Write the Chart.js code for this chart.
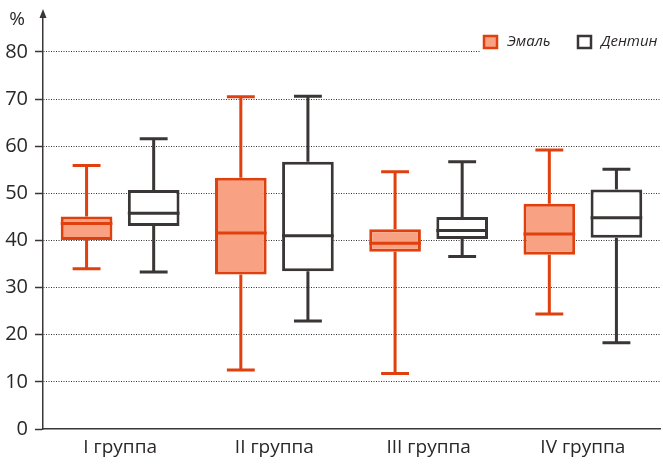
<!DOCTYPE html>
<html>
<head>
<meta charset="utf-8">
<script src="https://cdn.jsdelivr.net/npm/chart.js@4/dist/chart.umd.min.js"></script>
<style>
  body { margin: 0; background: #fff; }
  #wrap { width: 663px; height: 465px; position: relative; }
</style>
</head>
<body>
<div id="wrap"><canvas id="boxChart"></canvas></div>
<script>
const categories = ['I группа', 'II группа', 'III группа', 'IV группа'];
const seriesNames = ['Эмаль', 'Дентин'];
const yTicks = [0, 10, 20, 30, 40, 50, 60, 70, 80];

// Эмаль
const enamelMin = [34.0, 12.5, 11.8, 24.4];
const enamelQ1 = [40.1, 32.8, 37.6, 37.0];
const enamelMedian = [43.6, 41.6, 39.4, 41.4];
const enamelQ3 = [45.1, 53.3, 42.4, 47.8];
const enamelMax = [55.9, 70.5, 54.6, 59.2];

// Дентин
const dentinMin = [33.3, 22.9, 36.6, 18.3];
const dentinQ1 = [43.1, 33.5, 40.3, 40.6];
const dentinMedian = [45.8, 41.0, 42.1, 44.8];
const dentinQ3 = [50.7, 56.7, 45.0, 50.8];
const dentinMax = [61.6, 70.6, 56.7, 55.1];

const orange = '#e0400e';
const orangeFill = '#f9a283';
const dark = '#3a3635';
const textColor = '#2b2727';
const font = "'Open Sans', sans-serif";

// whiskers, caps and medians on top of the floating bars
const boxExtras = {
  id: 'boxExtras',
  afterDatasetsDraw(chart) {
    const ctx = chart.ctx;
    const y = chart.scales.y;
    chart.data.datasets.forEach((ds, i) => {
      const meta = chart.getDatasetMeta(i);
      meta.data.forEach((bar, j) => {
        const { x, width } = bar.getProps(['x', 'width'], true);
        const yMin = y.getPixelForValue(ds.mins[j]);
        const yMax = y.getPixelForValue(ds.maxs[j]);
        const yQ1 = y.getPixelForValue(ds.data[j][0]);
        const yQ3 = y.getPixelForValue(ds.data[j][1]);
        const yMed = y.getPixelForValue(ds.medians[j]);
        const cap = width * 0.27;
        ctx.save();
        ctx.strokeStyle = ds.borderColor;
        ctx.lineWidth = 3;
        ctx.beginPath();
        ctx.moveTo(x, yQ3); ctx.lineTo(x, yMax);
        ctx.moveTo(x, yQ1); ctx.lineTo(x, yMin);
        ctx.moveTo(x - cap, yMax); ctx.lineTo(x + cap, yMax);
        ctx.moveTo(x - cap, yMin); ctx.lineTo(x + cap, yMin);
        ctx.moveTo(x - width / 2, yMed); ctx.lineTo(x + width / 2, yMed);
        ctx.stroke();
        ctx.restore();
      });
    });
  }
};

// axis arrow, unit label and legend
const decorations = {
  id: 'decorations',
  afterDraw(chart) {
    const ctx = chart.ctx;
    const area = chart.chartArea;
    ctx.save();
    ctx.fillStyle = dark;
    ctx.beginPath();
    ctx.moveTo(area.left, 9);
    ctx.lineTo(area.left - 3.5, 18);
    ctx.lineTo(area.left + 3.5, 18);
    ctx.closePath();
    ctx.fill();

    ctx.fillStyle = textColor;
    ctx.font = '19px ' + font;
    ctx.textAlign = 'center';
    ctx.textBaseline = 'middle';
    ctx.fillText('%', 17, 20);

    // legend
    ctx.fillStyle = '#fff';
    ctx.fillRect(481, 31, 182, 24);
    const items = [
      { label: seriesNames[0], x: 484, fill: orangeFill, stroke: orange },
      { label: seriesNames[1], x: 578, fill: '#fff', stroke: dark }
    ];
    ctx.font = 'italic 15px ' + font;
    ctx.textAlign = 'left';
    items.forEach(it => {
      ctx.fillStyle = it.fill;
      ctx.strokeStyle = it.stroke;
      ctx.lineWidth = 2.5;
      ctx.fillRect(it.x, 36, 13, 12);
      ctx.strokeRect(it.x, 36, 13, 12);
      ctx.fillStyle = textColor;
      ctx.fillText(it.label, it.x + 23, 42);
    });
    ctx.restore();
  }
};

new Chart(document.getElementById('boxChart'), {
  type: 'bar',
  data: {
    labels: categories,
    datasets: [
      {
        label: seriesNames[0],
        data: enamelQ1.map((q, i) => [q, enamelQ3[i]]),
        mins: enamelMin,
        maxs: enamelMax,
        medians: enamelMedian,
        backgroundColor: orangeFill,
        borderColor: orange,
        borderWidth: 3,
        borderSkipped: false
      },
      {
        label: seriesNames[1],
        data: dentinQ1.map((q, i) => [q, dentinQ3[i]]),
        mins: dentinMin,
        maxs: dentinMax,
        medians: dentinMedian,
        backgroundColor: '#fff',
        borderColor: dark,
        borderWidth: 3,
        borderSkipped: false
      }
    ]
  },
  options: {
    responsive: true,
    maintainAspectRatio: false,
    animation: false,
    barPercentage: 0.77,
    categoryPercentage: 0.87,
    layout: { padding: { top: 11, right: 3, left: 0, bottom: 0 } },
    plugins: {
      legend: { display: false },
      tooltip: { enabled: false }
    },
    scales: {
      x: {
        grid: { display: false, drawTicks: false },
        border: { display: true, color: dark, width: 1.5 },
        ticks: { color: textColor, font: { family: font, size: 19 }, padding: 7 },
        afterFit: s => { s.height = 36; }
      },
      y: {
        min: 0,
        max: 87,
        ticks: {
          stepSize: 10,
          includeBounds: false,
          color: textColor,
          padding: 7,
          font: { family: font, size: 20 },
          callback: v => yTicks.includes(v) ? String(v) : null
        },
        grid: {
          color: c => c.tick && c.tick.value === 0 ? 'rgba(0,0,0,0)' : '#333',
          lineWidth: 1,
          tickColor: dark,
          tickLength: 8,
          tickWidth: 1.5
        },
        border: { display: true, color: dark, width: 1.5, dash: [1, 1.5] },
        afterFit: s => { s.width = 43; }
      }
    }
  },
  plugins: [boxExtras, decorations]
});
</script>
</body>
</html>
